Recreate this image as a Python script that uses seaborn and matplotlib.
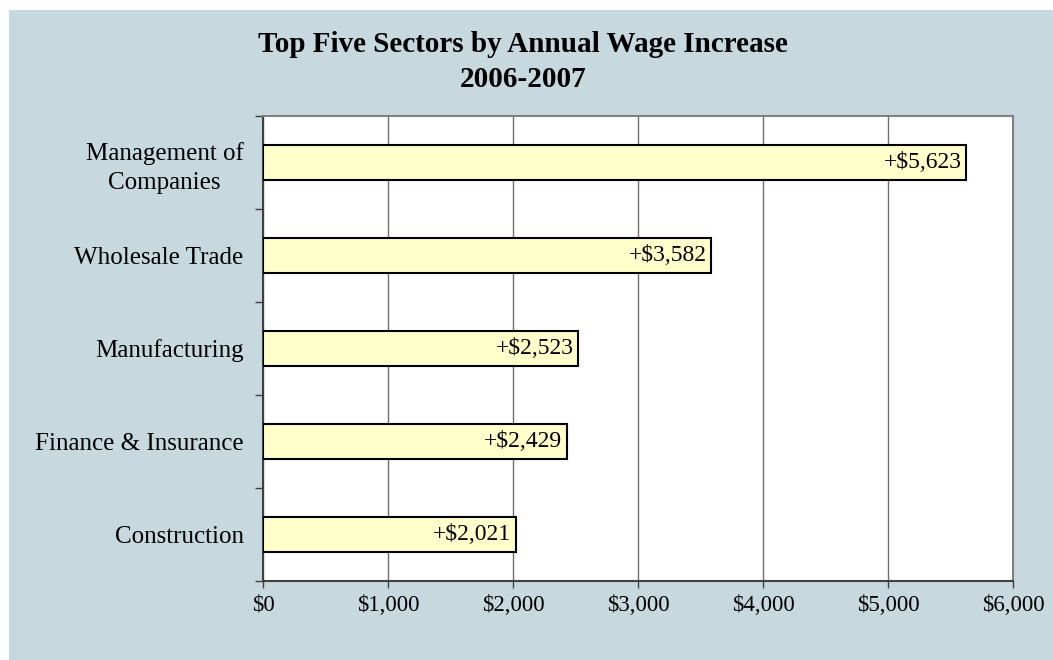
import matplotlib
matplotlib.use("Agg")
import matplotlib.pyplot as plt
import matplotlib.patches as mpatches
from matplotlib.ticker import FuncFormatter, FixedLocator
import pandas as pd
import seaborn as sns

# ---------- data ----------
sectors = [
    "Management of\nCompanies",
    "Wholesale Trade",
    "Manufacturing",
    "Finance & Insurance",
    "Construction",
]
wage_increase = [5623, 3582, 2523, 2429, 2021]
x_ticks = [0, 1000, 2000, 3000, 4000, 5000, 6000]

BG = "#C8D8DF"
BAR = "#FFFFCC"

sns.set_theme(style="white")
plt.rcParams["font.family"] = ["Liberation Serif", "DejaVu Serif"]
plt.rcParams["text.color"] = "black"
plt.rcParams["xtick.labelcolor"] = "black"
plt.rcParams["ytick.labelcolor"] = "black"

df = pd.DataFrame({"sector": sectors, "increase": wage_increase})

fig = plt.figure(figsize=(10.53, 6.6), dpi=100)
fig.patch.set_facecolor("white")
# blue-gray panel, leaving a thin white strip at the left and top
fig.patches.append(mpatches.Rectangle((9 / 1053, 0), 1, 1 - 10 / 660,
                                      transform=fig.transFigure,
                                      facecolor=BG, edgecolor="none", zorder=-10))

ax = fig.add_axes([263 / 1053, 1 - 581 / 660, 750 / 1053, 465 / 660])
ax.set_facecolor("white")

sns.barplot(data=df, y="sector", x="increase", orient="h", ax=ax,
            color=BAR, edgecolor="black", linewidth=1.5, width=0.37,
            saturation=1, zorder=3)

ax.set_xlim(0, 6000)
ax.set_ylim(4.5, -0.5)
ax.xaxis.set_major_locator(FixedLocator(x_ticks))
ax.xaxis.set_major_formatter(FuncFormatter(lambda v, p: f"${v:,.0f}"))
ax.grid(axis="x", color="#707070", linewidth=1, zorder=0)
ax.grid(axis="y", visible=False)
ax.set_axisbelow(True)

# category ticks sit between bars
ax.set_yticks([i + 0.5 for i in range(-1, len(sectors))], minor=True)
ax.tick_params(axis="y", which="minor", length=6, width=1, color="#404040",
               direction="out", left=True)
ax.tick_params(axis="y", which="major", length=0, pad=14, labelsize=18)
ax.tick_params(axis="x", length=5, width=1, color="#404040", direction="out",
               bottom=True, pad=5, labelsize=16.5)
for lab in ax.get_yticklabels():
    lab.set_multialignment("center")
    lab.set_linespacing(1.4)

for side in ["top", "right"]:
    ax.spines[side].set_color("#808080")
    ax.spines[side].set_linewidth(1.5)
for side in ["left", "bottom"]:
    ax.spines[side].set_color("#404040")
    ax.spines[side].set_linewidth(1.5)

ax.set_xlabel("")
ax.set_ylabel("")

for i, v in enumerate(wage_increase):
    ax.annotate(f"+${v:,}", xy=(v, i), xytext=(-3, 0), textcoords="offset points",
                ha="right", va="center", fontsize=17, color="black", zorder=5)

fig.text(0.497, 1 - 62 / 660, "Top Five Sectors by Annual Wage Increase\n2006-2007",
         ha="center", va="center", fontsize=21, fontweight="bold", linespacing=1.35)

fig.savefig("out.png", dpi=100, facecolor=fig.get_facecolor())
